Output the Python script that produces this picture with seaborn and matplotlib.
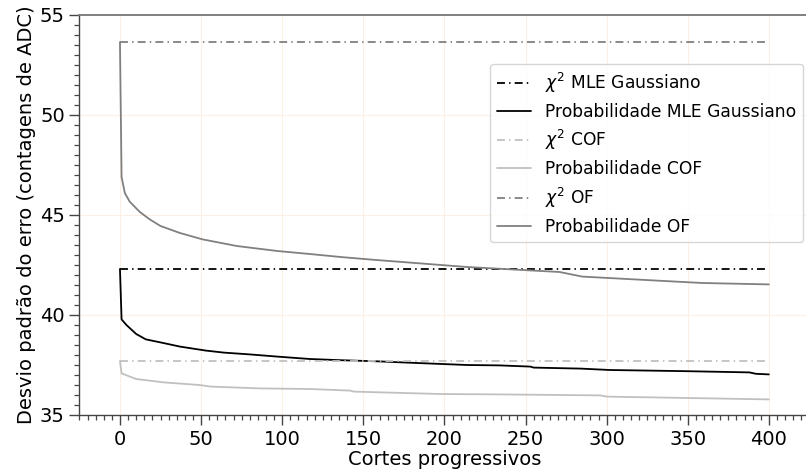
import matplotlib
matplotlib.use("Agg")
import matplotlib.pyplot as plt
import seaborn as sns
from matplotlib.ticker import MultipleLocator

# ---- data ----
chi2_x = [0, 400]
chi2_mle = 42.3
chi2_cof = 37.7
chi2_of = 53.65

x_mle = [0, 1, 4, 10, 16, 25, 37, 53, 64, 80, 97, 117, 136, 160, 177, 214, 234,
         253, 255, 284, 302, 350, 388, 392, 400]
p_mle = [42.3, 39.78, 39.5, 39.05, 38.78, 38.63, 38.42, 38.22, 38.12, 38.03, 37.92,
         37.8, 37.74, 37.68, 37.62, 37.5, 37.48, 37.42, 37.37, 37.32, 37.25, 37.19,
         37.13, 37.06, 37.03]

x_cof = [0, 1, 10, 27, 49, 56, 86, 117, 142, 144, 197, 234, 284, 296, 300, 350, 400]
p_cof = [37.7, 37.08, 36.8, 36.63, 36.5, 36.42, 36.33, 36.3, 36.22, 36.17, 36.05,
         36.03, 35.99, 35.98, 35.92, 35.85, 35.78]

x_of = [0, 1, 3, 6, 12, 18, 25, 37, 51, 72, 97, 117, 136, 158, 214, 271, 285, 331,
        359, 400]
p_of = [53.65, 46.9, 46.1, 45.67, 45.17, 44.8, 44.45, 44.1, 43.78, 43.45, 43.2,
        43.05, 42.9, 42.75, 42.4, 42.15, 41.92, 41.72, 41.6, 41.53]

labels = [r"$\chi^2$ MLE Gaussiano", "Probabilidade MLE Gaussiano",
          r"$\chi^2$ COF", "Probabilidade COF",
          r"$\chi^2$ OF", "Probabilidade OF"]

c_mle = "#000000"
c_cof = "#c0c0c0"
c_of = "#808080"

sns.set_style("white")
plt.rcParams["font.family"] = ["DejaVu Sans"]
plt.rcParams["text.color"] = "black"
plt.rcParams["axes.labelcolor"] = "black"

fig = plt.figure(figsize=(8.06, 4.76), dpi=100)
ax = fig.add_axes([79.4 / 806, 61 / 476, 730 / 806, 400 / 476])

lw = 1.3
dd = (0, (4.4, 2.3, 0.8, 2.3))
sns.lineplot(x=chi2_x, y=[chi2_mle] * 2, ax=ax, color=c_mle, linestyle=dd, lw=lw, label=labels[0])
sns.lineplot(x=x_mle, y=p_mle, ax=ax, color=c_mle, lw=lw, label=labels[1], estimator=None, sort=False)
sns.lineplot(x=chi2_x, y=[chi2_cof] * 2, ax=ax, color=c_cof, linestyle=dd, lw=lw, label=labels[2])
sns.lineplot(x=x_cof, y=p_cof, ax=ax, color=c_cof, lw=lw, label=labels[3], estimator=None, sort=False)
sns.lineplot(x=chi2_x, y=[chi2_of] * 2, ax=ax, color=c_of, linestyle=dd, lw=lw, label=labels[4])
sns.lineplot(x=x_of, y=p_of, ax=ax, color=c_of, lw=lw, label=labels[5], estimator=None, sort=False)

ax.set_xlim(-25, 425)
ax.set_ylim(35, 55)
ax.xaxis.set_major_locator(MultipleLocator(50))
ax.xaxis.set_minor_locator(MultipleLocator(5))
ax.yaxis.set_major_locator(MultipleLocator(5))
ax.yaxis.set_minor_locator(MultipleLocator(0.5))

ax.grid(True, which="major", color="#fcefe4", lw=0.8)
ax.set_axisbelow(True)

for s in ["left", "bottom"]:
    ax.spines[s].set_color("#444444")
    ax.spines[s].set_linewidth(1.0)
ax.spines["top"].set_color("#777777")
ax.spines["top"].set_linewidth(1.3)
ax.spines["right"].set_visible(False)

ax.tick_params(axis="both", which="major", direction="out", length=7, width=1,
               color="#444444", labelsize=14, labelcolor="black")
ax.tick_params(axis="both", which="minor", direction="out", length=3.5, width=0.9,
               color="#444444")
ax.tick_params(top=False, right=False, bottom=True, left=True, which="both")

ax.set_xlabel("Cortes progressivos", fontsize=14, labelpad=1)
ax.set_ylabel("Desvio padrão do erro (contagens de ADC)", fontsize=14, labelpad=3)

leg = ax.legend(loc="upper right", bbox_to_anchor=(803 / 806, 1 - 64 / 476),
                bbox_transform=fig.transFigure, borderaxespad=0, fontsize=12.3,
                labelspacing=0.45)
for t in leg.get_texts():
    t.set_color("black")

fig.savefig("out.png", dpi=100)
